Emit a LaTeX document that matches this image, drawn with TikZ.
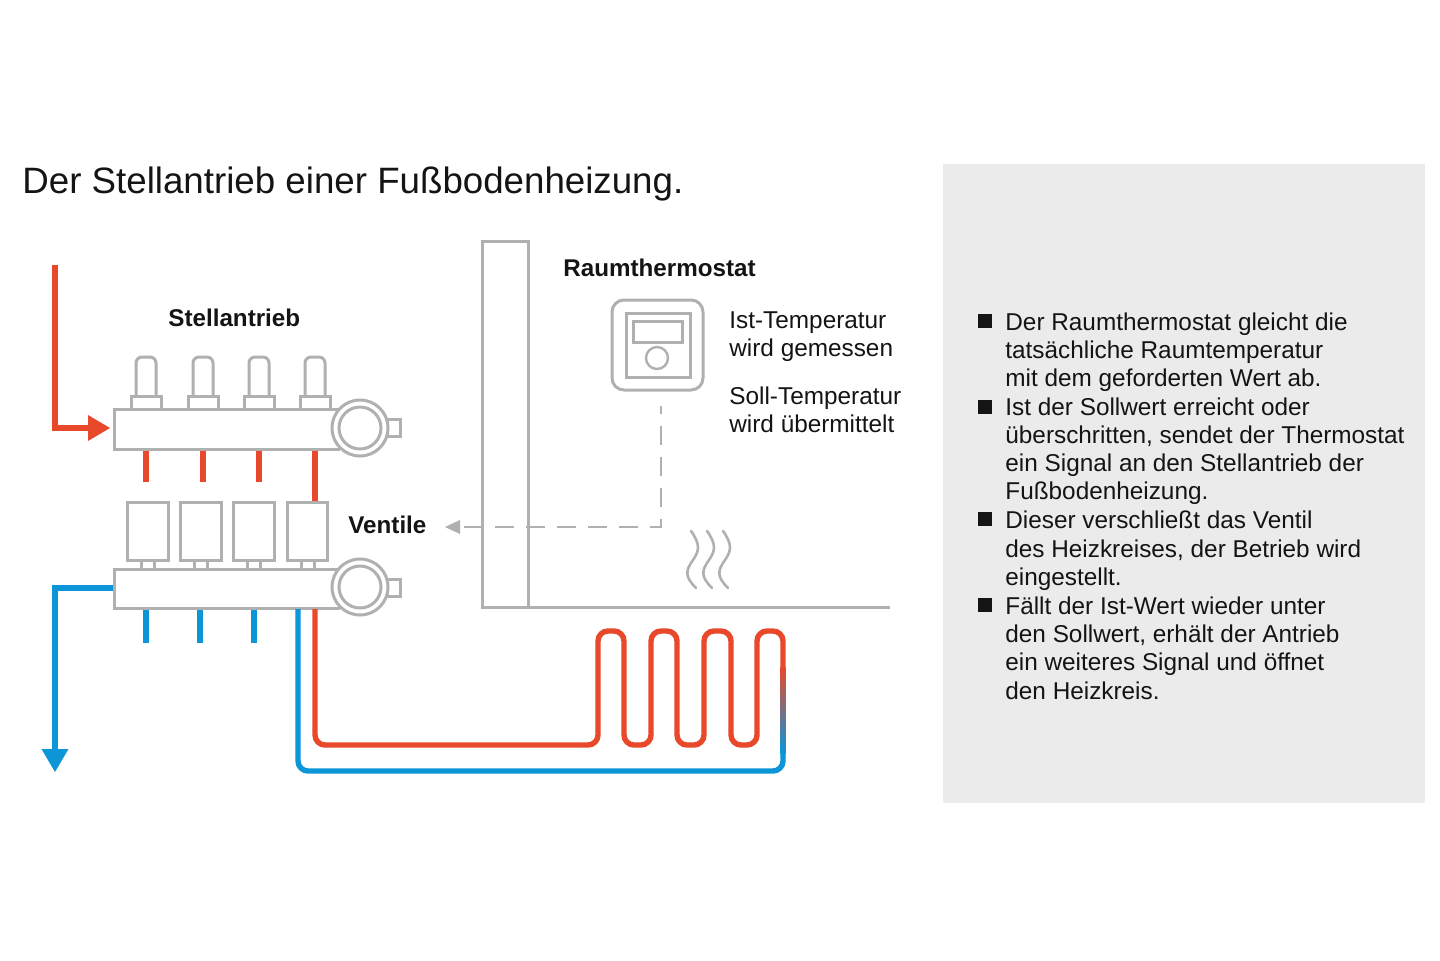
\documentclass[tikz,border=0pt]{standalone}
\usepackage{fontspec}
\setmainfont{Liberation Sans}
\definecolor{hot}{HTML}{E8492B}
\definecolor{cold}{HTML}{0C96D8}
\definecolor{lineg}{HTML}{B0B0B0}
\definecolor{panelg}{HTML}{EBEBEB}
\definecolor{ink}{HTML}{141414}
\newcommand{\fsize}[1]{\fontsize{#1}{#1}\selectfont}
\tikzset{
  hotpipe/.style={draw=hot,line width=2.7pt,rounded corners=5pt},
  coldpipe/.style={draw=cold,line width=2.7pt,rounded corners=5pt},
  straighthot/.style={draw=hot,line width=2.7pt},
  straightcold/.style={draw=cold,line width=2.7pt},
  part/.style={draw=lineg,line width=1.5pt,fill=white},
  titletext/.style={anchor=base west,inner sep=0pt,text=ink,font=\fsize{18.35}},
  headtext/.style={anchor=base west,inner sep=0pt,text=ink,font=\fsize{12.1}\bfseries},
  bodytext/.style={anchor=base west,inner sep=0pt,text=ink,font=\fsize{12.17}},
  bulletmark/.style={fill=ink,minimum size=7pt,inner sep=0pt,draw=none},
  wave/.style={draw=lineg,line width=1.3pt,line cap=round},
  signal/.style={draw=lineg,line width=1.4pt,dash pattern=on 9.5pt off 6pt,dash phase=5.5pt}
}
\begin{document}
\begin{tikzpicture}[x=0.5pt,y=-0.5pt]
\useasboundingbox (0,0) rectangle (1440,960);
\fill[white] (0,0) rectangle (1440,960);
\fill[panelg] (943,163.5) rectangle (1425,802.5);

\node[titletext] (title) at (22,193) {Der Stellantrieb einer Fußbodenheizung.};
\node[headtext] (h1) at (168,326) {Stellantrieb};
\node[headtext] (h2) at (563,276) {Raumthermostat};
\node[headtext] (h3) at (348,533.5) {Ventile};
\node[bodytext] (t1) at (729,328) {Ist-Temperatur};
\node[bodytext] (t2) at (729,356.5) {wird gemessen};
\node[bodytext] (t3) at (729,404) {Soll-Temperatur};
\node[bodytext] (t4) at (729,432) {wird übermittelt};

% text panel
\node[bulletmark] (b1) at (985,321) {};
\node[bulletmark] (b2) at (985,407) {};
\node[bulletmark] (b3) at (985,519) {};
\node[bulletmark] (b4) at (985,605) {};
\node[bodytext] (p1) at (1005,330) {Der Raumthermostat gleicht die};
\node[bodytext] (p2) at (1005,358) {tatsächliche Raumtemperatur};
\node[bodytext] (p3) at (1005,386) {mit dem geforderten Wert ab.};
\node[bodytext] (p4) at (1005,415) {Ist der Sollwert erreicht oder};
\node[bodytext] (p5) at (1005,443) {überschritten, sendet der Thermostat};
\node[bodytext] (p6) at (1005,471) {ein Signal an den Stellantrieb der};
\node[bodytext] (p7) at (1005,499) {Fußbodenheizung.};
\node[bodytext] (p8) at (1005,528) {Dieser verschließt das Ventil};
\node[bodytext] (p9) at (1005,557) {des Heizkreises, der Betrieb wird};
\node[bodytext] (p10) at (1005,585) {eingestellt.};
\node[bodytext] (p11) at (1005,614) {Fällt der Ist-Wert wieder unter};
\node[bodytext] (p12) at (1005,642) {den Sollwert, erhält der Antrieb};
\node[bodytext] (p13) at (1005,670) {ein weiteres Signal und öffnet};
\node[bodytext] (p14) at (1005,699) {den Heizkreis.};

% wall and floor
\draw[draw=lineg,line width=1.5pt] (890,607) -- (482,607) -- (482,241) -- (528,241) -- (528,607);

% thermostat
\draw[part,rounded corners=6pt] (612,300) rectangle (703,390);
\draw[part] (626,313) rectangle (690,377);
\draw[part] (633,321) rectangle (682,342);
\draw[part,line width=1.2pt] (657,358) circle (11);

% signal
\coordinate (sigstart) at (661,406);
\coordinate (sigcorner) at (661,527);
\coordinate (sigend) at (458,527);
\coordinate (sigtip) at (445,527);
\draw[signal] (sigstart) -- (sigcorner) -- (sigend);
\fill[lineg] (sigtip) -- (460,520) -- (460,534) -- cycle;

% warmth
\foreach \dx in {0,16,32}{
  \draw[wave] (691+\dx,531) .. controls (701+\dx,545) and (699+\dx,551) .. (693+\dx,560)
     .. controls (685+\dx,571) and (685+\dx,577) .. (696+\dx,588);
}

% supply and return arrows
\coordinate (inA) at (55,265);
\coordinate (inB) at (55,428);
\coordinate (inC) at (92,428);
\draw[straighthot] (inA) -- (inB) -- (inC);
\fill[hot] (110,428) -- (88,415) -- (88,441) -- cycle;
\coordinate (outA) at (114,588);
\coordinate (outB) at (55,588);
\coordinate (outC) at (55,752);
\draw[straightcold] (outA) -- (outB) -- (outC);
\fill[cold] (55,772) -- (41.5,749) -- (68.5,749) -- cycle;

% stubs
\foreach \x in {146,203,259}{ \draw[straighthot] (\x,449) -- (\x,482); }
\draw[straighthot] (315,449) -- (315,502);
\foreach \x in {146,200,254}{ \draw[straightcold] (\x,608) -- (\x,643); }

% actuators on top manifold
\foreach \x in {146,203,259,315}{
  \draw[part,rounded corners=3pt] (\x-10,398) -- (\x-10,357) -- (\x+10,357) -- (\x+10,398);
  \draw[part] (\x-15,396) rectangle (\x+15,409);
}
% valves
\foreach \a/\b/\c in {127/168/147.5,180/221/200.5,233/274/254,287/327/307.5}{
  \draw[part] (\c-6.5,560) rectangle (\c+6.5,569);
  \draw[part] (\a,502) rectangle (\b,560);
}
% manifolds
\foreach \t/\b/\c/\sa/\sb in {409/449/428/419/436,569/608/587/579/596}{
  \draw[part] (340,\t) -- (114,\t) -- (114,\b) -- (340,\b);
  \draw[part] (387,\sa) rectangle (400,\sb);
  \draw[part] (360,\c) circle (28);
  \draw[part,fill=none] (360,\c) circle (21);
}

% floor heating loop
\coordinate (hotstart) at (315,609);
\coordinate (fade) at (783,668);
\coordinate (fadeend) at (783,752);
\coordinate (coldend) at (298,609);
\draw[hotpipe] (hotstart) -- (315,745) -- (598,745) -- (598,631) -- (624,631) -- (624,745)
  -- (651,745) -- (651,631) -- (677,631) -- (677,745) -- (704,745) -- (704,631)
  -- (731,631) -- (731,745) -- (757,745) -- (757,631) -- (783,631) -- (fade);
\draw[coldpipe] (fadeend) -- (783,771) -- (298,771) -- (coldend);
\shade[top color=hot,bottom color=cold] (780.3,667) rectangle (785.7,753);
\end{tikzpicture}
\end{document}
